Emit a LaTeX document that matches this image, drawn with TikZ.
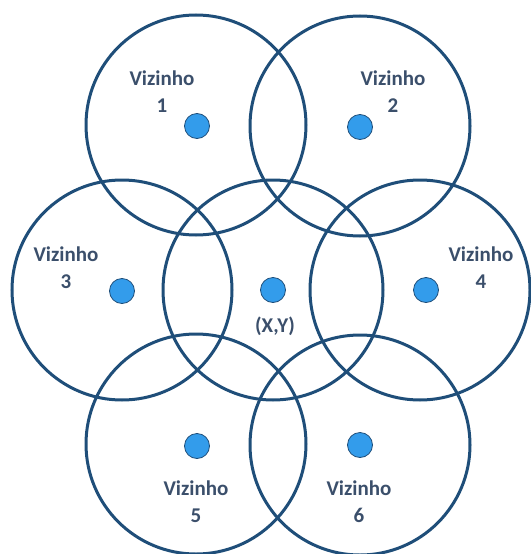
\documentclass[tikz,border=0pt]{standalone}
\usepackage{fontspec}
\setmainfont{Carlito}
\definecolor{ringblue}{HTML}{1F4E79}
\definecolor{dotblue}{HTML}{339CEB}
\definecolor{labelblue}{HTML}{3B4F6B}
\begin{document}
\begin{tikzpicture}[x=1pt,y=-1pt,
  ring/.style={circle,draw=ringblue,line width=3pt,minimum size=220pt,inner sep=0pt},
  site/.style={circle,draw=ringblue,line width=0.8pt,fill=dotblue,minimum size=25pt,inner sep=0pt},
  tag/.style={text=labelblue,font=\bfseries\fontsize{21}{27}\selectfont,align=center,inner sep=0pt}]
\useasboundingbox (0,0) rectangle (530,554);
% coverage ranges of the neighbours and of the central point
\node[ring] (r1) at (196,125) {};
\node[ring] (r2) at (360,126) {};
\node[ring] (r3) at (122,290) {};
\node[ring] (r0) at (273,290) {};
\node[ring] (r4) at (420,290) {};
\node[ring] (r5) at (196,444) {};
\node[ring] (r6) at (360,445) {};
% positions
\node[site] (s1) at (197,126) {};
\node[site] (s2) at (360,127) {};
\node[site] (s3) at (122,291) {};
\node[site] (s0) at (273,290) {};
\node[site] (s4) at (426,290) {};
\node[site] (s5) at (197,446) {};
\node[site] (s6) at (360,445) {};
% labels
\node[tag] (t1) at (162,92) {Vizinho\\1};
\node[tag] (t2) at (393,92) {Vizinho\\2};
\node[tag] (t3) at (66,268) {Vizinho\\3};
\node[tag] (t4) at (481,268) {Vizinho\\4};
\node[tag] (t0) at (275,326) {(X,Y)};
\node[tag] (t5) at (196,502) {Vizinho\\5};
\node[tag] (t6) at (359,502) {Vizinho\\6};
\end{tikzpicture}
\end{document}
